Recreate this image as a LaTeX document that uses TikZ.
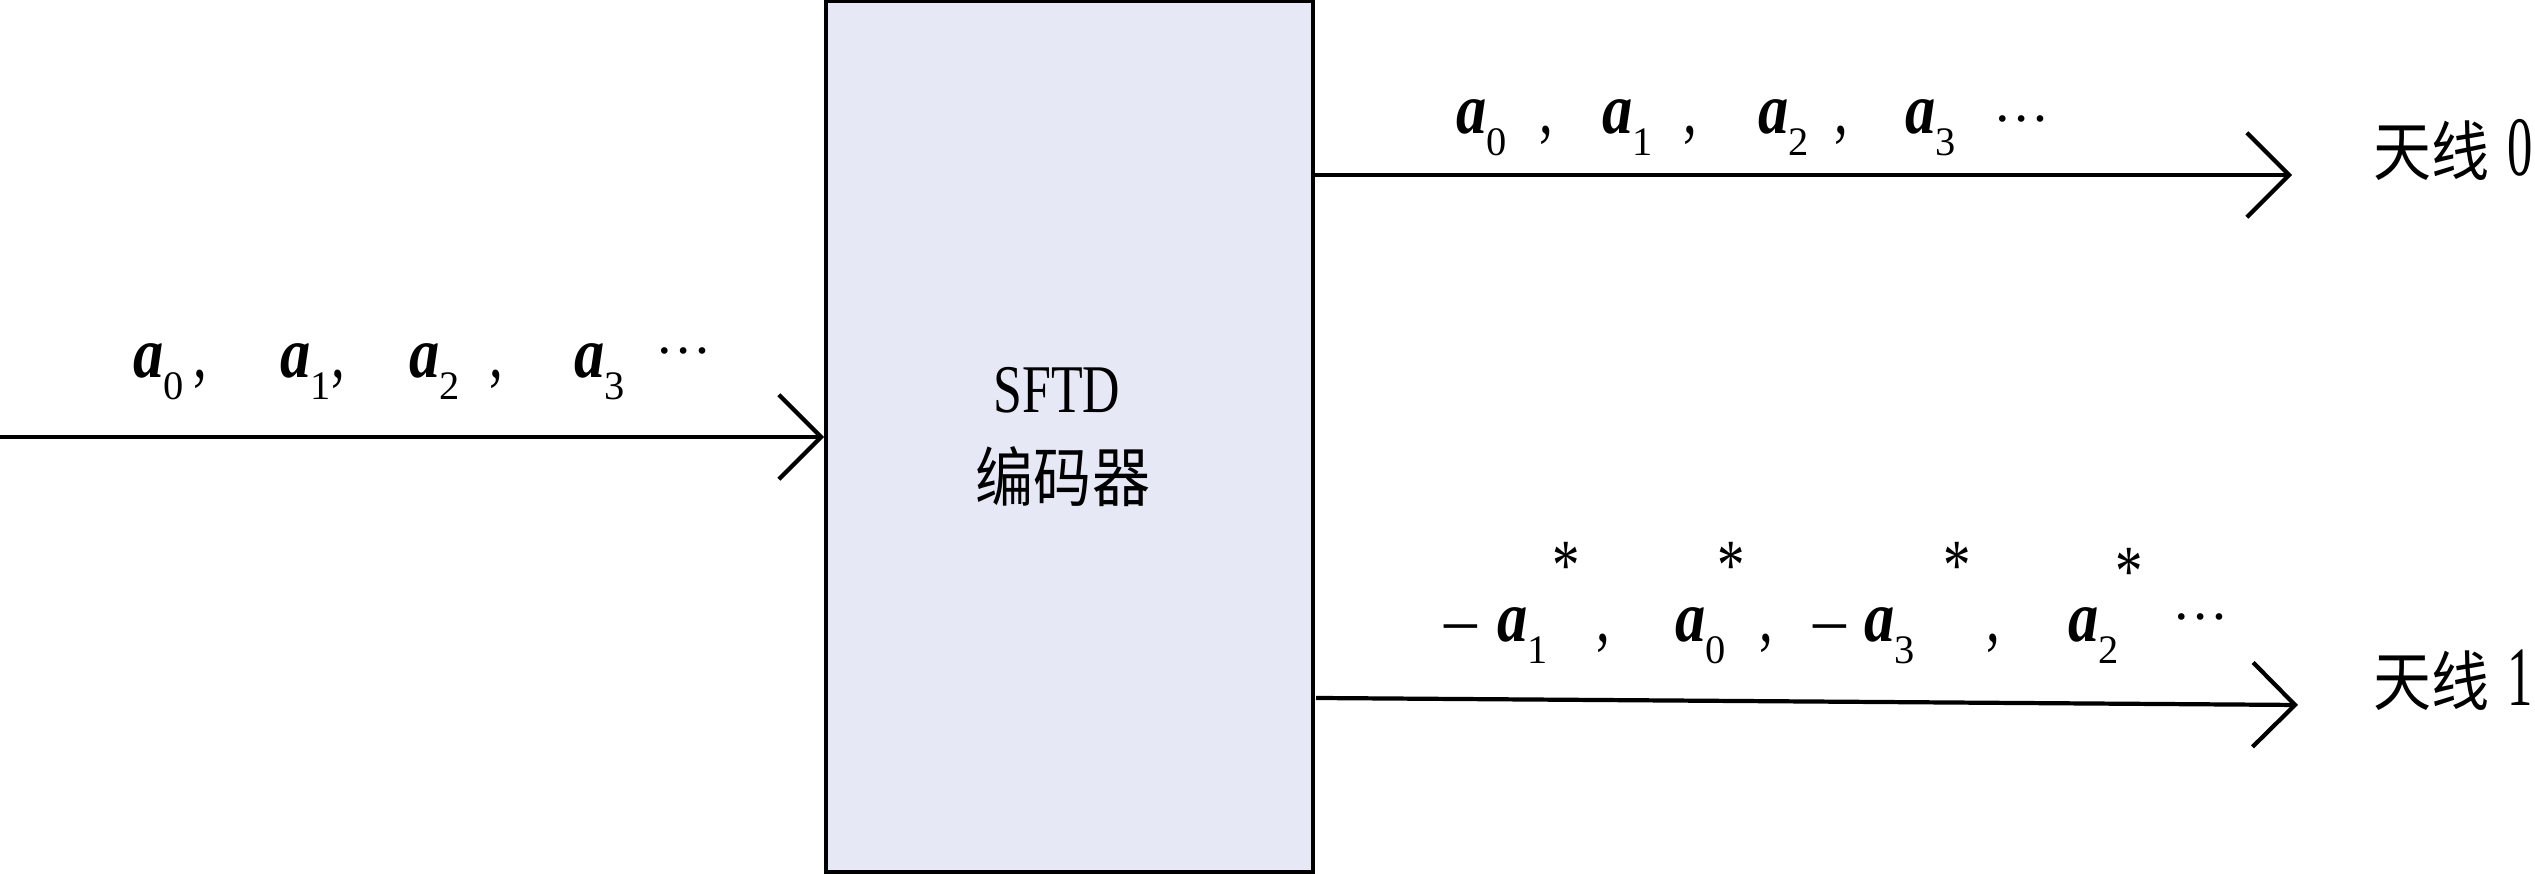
\documentclass[tikz,border=0pt]{standalone}
\usepackage{fontspec}
\setmainfont{Liberation Serif}
\newfontfamily\cjk{Noto Sans CJK SC}
\usetikzlibrary{arrows.meta,positioning}
\definecolor{encfill}{RGB}{230,232,246}
% narrow (condensed) text, bold italic symbol with subscript
\newcommand{\nar}[1]{\scalebox{0.76}[1]{#1}}
\newcommand{\av}[1]{\scalebox{0.84}[1]{\textbf{\textit{a}}}\raisebox{-6.2pt}{\fontsize{11.5}{12}\selectfont #1}}
\newcommand{\cn}[1]{{\cjk\fontsize{16.5}{18}\selectfont\scalebox{1}[1.12]{#1}}}
\tikzset{
    signal/.style={-{Straight Barb[length=12pt, width=24pt]}, line width=1.2pt},
    coder/.style={draw, line width=1pt, fill=encfill, minimum width=4.87cm, minimum height=8.7cm, inner sep=0pt},
    sym/.style={inner sep=0pt, anchor=base west, font=\fontsize{20.5}{22}\selectfont},
    dots/.style={inner sep=0pt, anchor=base west, font=\fontsize{16}{16}\selectfont}
}
\begin{document}
\begin{tikzpicture}[x=0.01cm, y=-0.01cm]
    \useasboundingbox (0,0) rectangle (2535,874);
    \node[coder] (enc) at (1069.5,437) {};
    \node[sym, anchor=base, font=\fontsize{19.4}{20}\selectfont] (name) at (1057,413) {\nar{SFTD}};
    \node[inner sep=0pt] (name2) at (1063,477) {\cn{编码器}};

    \coordinate (src) at (0,437);
    \coordinate (tip0) at (2292,175);
    \coordinate (from1) at (1316,698);
    \coordinate (tip1) at (2298,705);
    \draw[signal] (src) -- (enc.west);
    \draw[signal] (enc.east |- tip0) -- (tip0);
    \draw[signal] (from1) -- (tip1);

    % input stream
    \foreach \x/\k [count=\i] in {133/0,280/1,409/2,574/3}
        \node[sym] (in\i) at (\x,378) {\av{\k}};
    \foreach \x [count=\i] in {193,331,489}
        \node[sym] (inc\i) at (\x,378) {\nar{,}};
    \node[dots] (indots) at (655,354) {…};

    % antenna 0
    \foreach \x/\k [count=\i] in {1456/0,1602/1,1758/2,1905/3}
        \node[sym] (up\i) at (\x,134) {\av{\k}};
    \foreach \x [count=\i] in {1539,1683,1834}
        \node[sym] (upc\i) at (\x,134) {\nar{,}};
    \node[dots] (updots) at (1993,122) {…};

    % antenna 1
    \foreach \x/\k [count=\i] in {1497/1,1675/0,1864/3,2068/2}
        \node[sym] (lo\i) at (\x,642) {\av{\k}};
    \foreach \x/\y [count=\i] in {1552/590,1717/590,1943/590,2115/596}
        \node[sym] (los\i) at (\x,\y) {\nar{*}};
    \foreach \x [count=\i] in {1596,1759,1986}
        \node[sym] (loc\i) at (\x,642) {\nar{,}};
    \foreach \x [count=\i] in {1440,1809}
        \node[sym] (lom\i) at (\x,651) {−};
    \node[dots] (lodots) at (2172,620) {…};

    \node[sym] (ant0) at (2373,176) {\cn{天线}\hspace{5pt}\scalebox{0.6}[1]{\fontsize{24}{24}\selectfont 0}};
    \node[sym] (ant1) at (2373,706) {\cn{天线}\hspace{5pt}\scalebox{0.6}[1]{\fontsize{24}{24}\selectfont 1}};
\end{tikzpicture}
\end{document}
